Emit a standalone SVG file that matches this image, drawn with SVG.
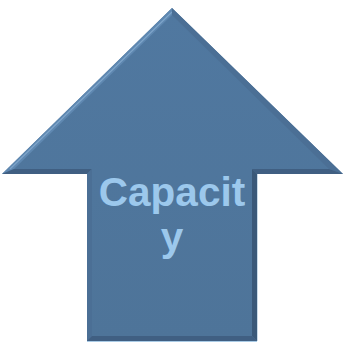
<svg xmlns="http://www.w3.org/2000/svg" width="346" height="344" viewBox="0 0 346 344">
<style>
.lbl{font-family:"Liberation Sans",Arial,sans-serif;font-weight:bold;font-size:40.5px;fill:#9cc8ec;text-anchor:middle}
.f-lt{fill:#5f88b1}
.f-md{fill:#4b6f95}
.f-dk{fill:#405f82}
.f-dk2{fill:#3b5979}
</style>
<defs>
<linearGradient id="body" x1="0" y1="0" x2="0" y2="1">
<stop offset="0" stop-color="#5078a0"/>
<stop offset="1" stop-color="#4e7499"/>
</linearGradient>
</defs>
<rect width="346" height="344" fill="#ffffff"/>
<g id="arrow">
<polygon points="172,8 343,174 257,174 257,341 87,341 87,174 2,174" fill="url(#body)"/>
<polygon class="f-lt" points="2,174 172,8 172,15 14,169"/>
<line x1="10" y1="169" x2="172" y2="12" stroke="#86acd0" stroke-width="1.2" opacity="0.8"/>
<polygon class="f-md" points="172,8 343,174 329,169 172,15"/>
<polygon class="f-dk" points="2,174 87,174 92,169 14,169"/>
<polygon class="f-dk" points="257,174 343,174 329,169 252,169"/>
<polygon class="f-md" points="87,174 92,169 92,336 87,341"/>
<polygon class="f-dk2" points="257,174 252,169 252,336 257,341"/>
<polygon class="f-dk" points="87,341 92,336 252,336 257,341"/>
<line x1="87" y1="341.5" x2="257" y2="341.5" stroke="#a9cbe6" stroke-width="1"/>
<line x1="257.5" y1="174" x2="257.5" y2="341" stroke="#c9dbe9" stroke-width="1"/>
</g>
<g id="label">
<text class="lbl" x="172" y="206">Capacit</text>
<text class="lbl" x="172" y="251">y</text>
</g>
</svg>
